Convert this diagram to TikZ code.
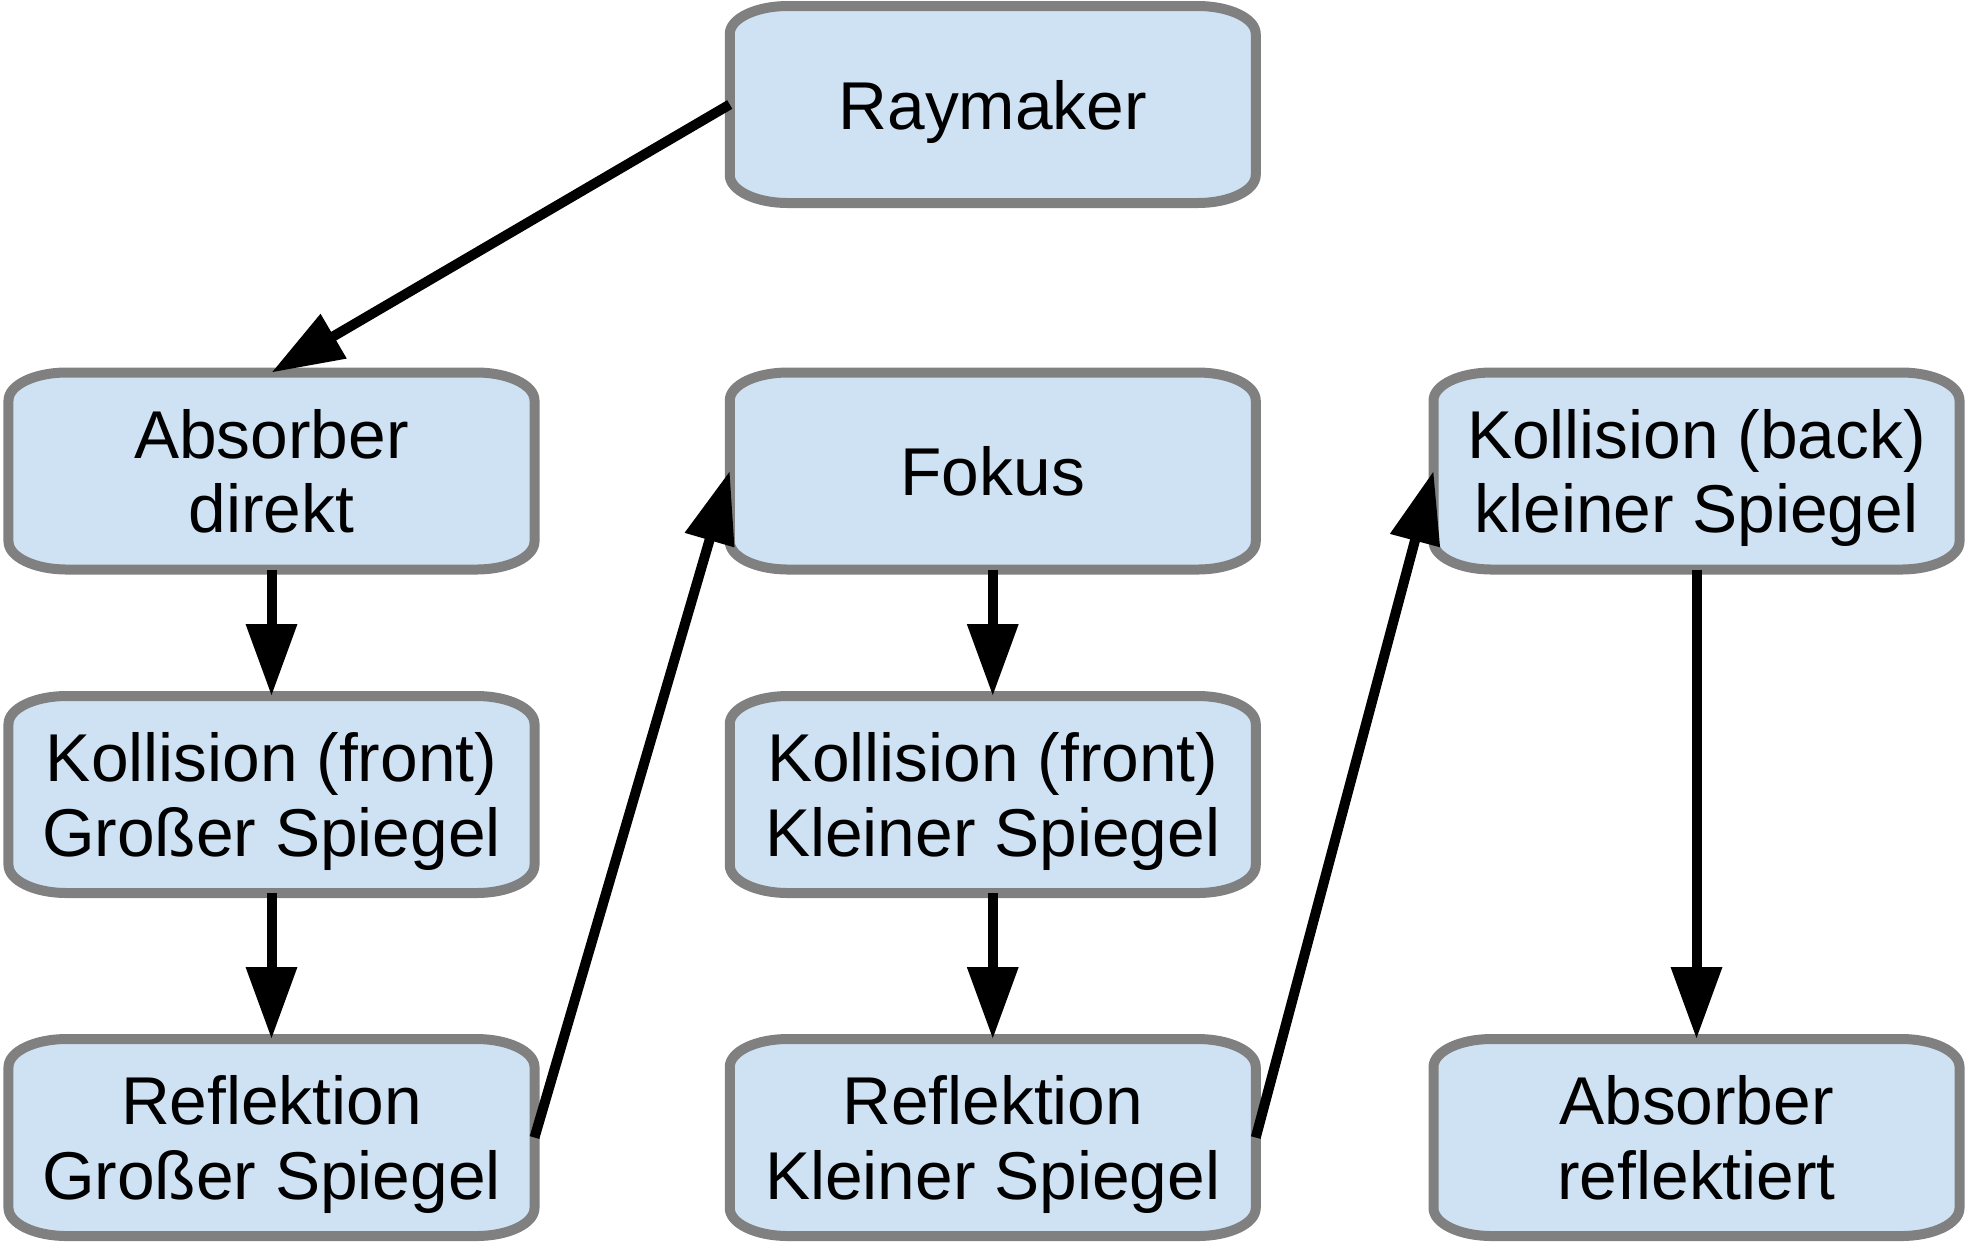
\documentclass[tikz,border=0pt]{standalone}
\usepackage{fontspec}
\setmainfont{Liberation Sans}
\usepackage{tikz}
\usetikzlibrary{arrows.meta,backgrounds}
\definecolor{boxblue}{RGB}{207,226,243}
\definecolor{boxgray}{RGB}{128,128,128}

\tikzset{
  stage/.style={minimum width=10.52cm, minimum height=3.94cm, inner sep=0pt,
    outer sep=0pt, align=center, text depth=0pt,
    font=\fontsize{38.5}{42.5}\selectfont},
  boxframe/.style={draw=boxgray, fill=boxblue, line width=0.2cm},
  flow/.style={line width=0.2cm, -{Triangle[length=1.44cm, width=0.98cm]}},
}

\begin{document}
\begin{tikzpicture}
    \useasboundingbox (0,0) rectangle (39.38,-24.9);
    \node[stage] (ray) at (19.855,-2.09) {Raymaker};
    % second row
    \node[stage] (absd) at (5.43,-9.42) {Absorber\\direkt};
    \node[stage] (fokus) at (19.855,-9.42) {Fokus};
    \node[stage] (kback) at (33.93,-9.42) {Kollision (back)\\kleiner Spiegel};
    % third row
    \node[stage] (kfg) at (5.43,-15.89) {Kollision (front)\\Großer Spiegel};
    \node[stage] (kfk) at (19.855,-15.89) {Kollision (front)\\Kleiner Spiegel};
    % bottom row
    \node[stage] (refg) at (5.43,-22.75) {Reflektion\\Großer Spiegel};
    \node[stage] (refk) at (19.855,-22.75) {Reflektion\\Kleiner Spiegel};
    \node[stage] (absr) at (33.93,-22.75) {Absorber\\reflektiert};
    \begin{scope}[on background layer] % boxes with flat corners
      \foreach \n in {ray,absd,fokus,kback,kfg,kfk,refg,refk,absr}
        \draw[boxframe] ([yshift=0.56cm]\n.south west)
          -- ([yshift=-0.56cm]\n.north west)
          arc[start angle=180, end angle=90, x radius=1.16cm, y radius=0.56cm]
          -- ([xshift=-1.16cm]\n.north east)
          arc[start angle=90, end angle=0, x radius=1.16cm, y radius=0.56cm]
          -- ([yshift=0.56cm]\n.south east)
          arc[start angle=0, end angle=-90, x radius=1.16cm, y radius=0.56cm]
          -- ([xshift=1.16cm]\n.south west)
          arc[start angle=270, end angle=180, x radius=1.16cm, y radius=0.56cm]
          -- cycle;
    \end{scope}
    \draw[flow] (ray.west) -- (absd.north);
    \draw[flow] (absd) -- (kfg);
    \draw[flow] (kfg) -- (refg);
    \draw[flow] (refg.east) -- (fokus.west);
    \draw[flow] (fokus) -- (kfk);
    \draw[flow] (kfk) -- (refk);
    \draw[flow] (refk.east) -- (kback.west);
    \draw[flow] (kback) -- (absr);
\end{tikzpicture}
\end{document}
